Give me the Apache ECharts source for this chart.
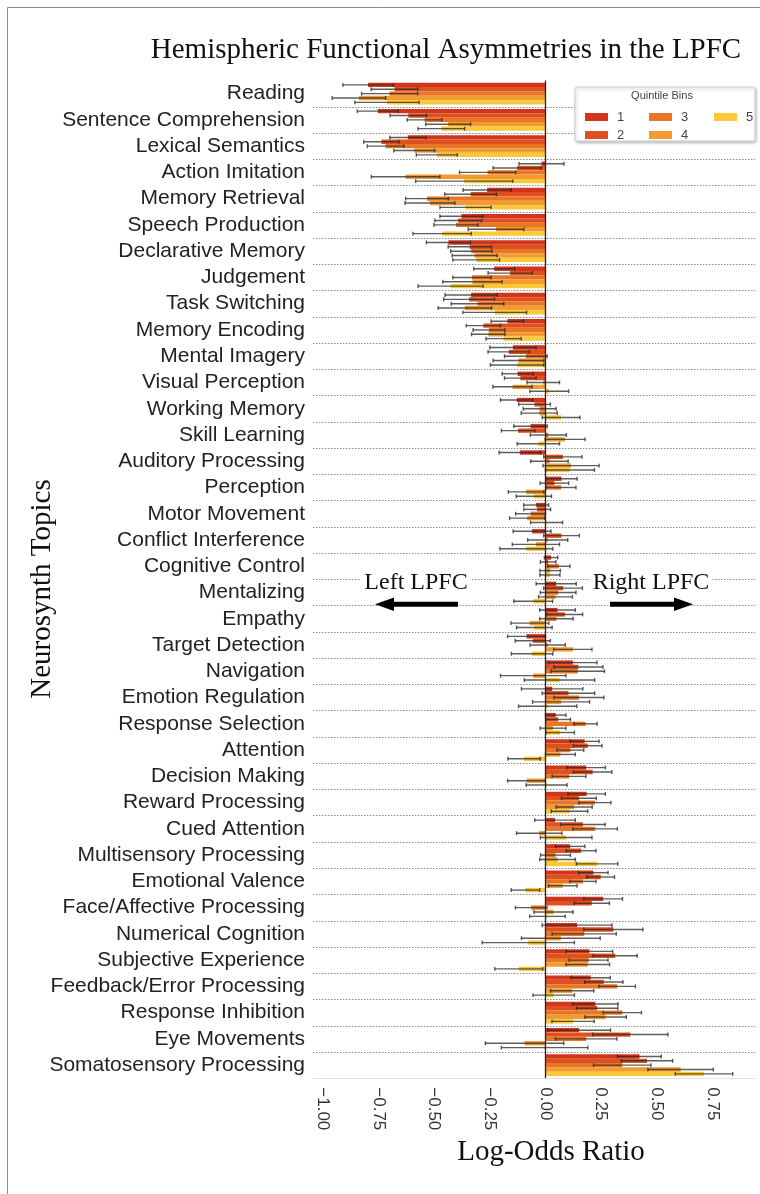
<!DOCTYPE html>
<html><head><meta charset="utf-8">
<script src="https://cdn.jsdelivr.net/npm/echarts@6/dist/echarts.min.js"></script>
<style>html,body{margin:0;padding:0;background:#fff}#c{width:760px;height:1194px}</style>
</head><body><div id="c"></div>
<script>
const categories = ['Reading','Sentence Comprehension','Lexical Semantics','Action Imitation','Memory Retrieval','Speech Production','Declarative Memory','Judgement','Task Switching','Memory Encoding','Mental Imagery','Visual Perception','Working Memory','Skill Learning','Auditory Processing','Perception','Motor Movement','Conflict Interference','Cognitive Control','Mentalizing','Empathy','Target Detection','Navigation','Emotion Regulation','Response Selection','Attention','Decision Making','Reward Processing','Cued Attention','Multisensory Processing','Emotional Valence','Face/Affective Processing','Numerical Cognition','Subjective Experience','Feedback/Error Processing','Response Inhibition','Eye Movements','Somatosensory Processing'];
const xTicks = [-1, -0.75, -0.5, -0.25, 0, 0.25, 0.5, 0.75];
const binNames = ['1','2','3','4','5'];
const bin1 = [-0.797,-0.753,-0.618,-0.018,-0.262,-0.377,-0.436,-0.230,-0.334,-0.171,-0.146,-0.125,-0.129,-0.067,-0.115,0.072,-0.042,-0.060,0.025,0.048,0.054,-0.085,0.123,0.030,0.046,0.176,0.183,0.185,0.043,0.111,0.215,0.259,0.142,0.197,0.203,0.224,0.151,0.422];
const bin2 = [-0.678,-0.616,-0.737,-0.127,-0.336,-0.392,-0.340,-0.159,-0.343,-0.279,-0.165,-0.113,-0.049,-0.123,0.078,0.040,-0.037,0.072,0.012,0.079,0.087,-0.057,0.148,0.103,0.057,0.190,0.212,0.150,0.168,0.160,0.248,0.208,0.305,0.313,0.262,0.232,0.381,0.456];
const bin3 = [-0.700,-0.543,-0.718,-0.260,-0.532,-0.402,-0.333,-0.330,-0.305,-0.254,-0.088,-0.010,-0.026,0.013,0.018,0.070,-0.067,0.010,0.060,0.057,0.049,0.010,0.145,0.150,0.180,0.112,0.106,0.222,0.223,0.045,0.168,-0.064,0.174,0.194,0.322,0.345,0.183,0.345];
const bin4 = [-0.838,-0.437,-0.589,-0.628,-0.519,-0.222,-0.318,-0.328,-0.362,-0.257,-0.121,-0.148,-0.028,0.088,0.115,-0.087,-0.082,-0.043,0.021,0.045,-0.070,0.123,-0.055,0.070,0.034,0.067,-0.085,0.129,-0.028,0.054,0.078,0.036,0.069,0.190,0.120,0.270,-0.094,0.607];
const bin5 = [-0.712,-0.468,-0.488,-0.365,-0.359,-0.464,-0.311,-0.426,-0.228,-0.188,-0.127,0.017,0.070,-0.032,0.110,-0.052,0.005,-0.086,0.020,-0.055,-0.050,-0.060,0.063,0.010,0.066,-0.096,0.005,0.108,0.093,0.232,-0.090,0.009,-0.077,-0.120,0.037,0.124,-0.004,0.712];
const err1 = [0.113,0.092,0.081,0.101,0.108,0.097,0.099,0.092,0.117,0.073,0.104,0.070,0.073,0.075,0.093,0.070,0.056,0.085,0.030,0.090,0.080,0.085,0.108,0.138,0.046,0.065,0.086,0.084,0.091,0.066,0.066,0.087,0.157,0.105,0.088,0.102,0.141,0.098];
const err2 = [0.105,0.082,0.079,0.108,0.116,0.105,0.097,0.099,0.114,0.077,0.093,0.071,0.071,0.075,0.086,0.064,0.060,0.080,0.035,0.087,0.080,0.079,0.110,0.118,0.055,0.064,0.086,0.078,0.100,0.067,0.062,0.079,0.133,0.099,0.086,0.093,0.169,0.115];
const err3 = [0.126,0.078,0.082,0.126,0.096,0.099,0.093,0.086,0.118,0.071,0.096,0.073,0.074,0.081,0.084,0.067,0.067,0.090,0.050,0.080,0.075,0.079,0.120,0.112,0.052,0.060,0.076,0.072,0.100,0.067,0.059,0.071,0.144,0.087,0.082,0.086,0.138,0.129];
const err4 = [0.120,0.101,0.092,0.154,0.112,0.125,0.101,0.133,0.120,0.075,0.114,0.088,0.081,0.090,0.126,0.080,0.079,0.106,0.046,0.076,0.085,0.086,0.147,0.128,0.058,0.067,0.085,0.081,0.102,0.080,0.064,0.088,0.177,0.098,0.097,0.093,0.176,0.147];
const err5 = [0.144,0.105,0.092,0.218,0.115,0.131,0.105,0.146,0.143,0.079,0.120,0.087,0.085,0.095,0.110,0.079,0.072,0.119,0.045,0.087,0.080,0.093,0.158,0.131,0.064,0.073,0.092,0.082,0.116,0.093,0.064,0.080,0.207,0.108,0.093,0.095,0.194,0.129];

const values = [bin1, bin2, bin3, bin4, bin5];
const errors = [err1, err2, err3, err4, err5];
const colors = ['#d2341c', '#df501f', '#e97526', '#f29b2f', '#fbc83a'];
const CAT_GAP = 0.17;
const SANS = '"Liberation Sans", Arial, sans-serif';
const SERIF = '"Liberation Serif", "Times New Roman", serif';

function fmt(v) {
  return (v < 0 ? '\u2212' : '') + Math.abs(v).toFixed(2);
}

function errRender(k) {
  return function (params, api) {
    const cat = api.value(0), v = api.value(1), e = api.value(2);
    const band = api.size([0, 1])[1];
    const group = band * (1 - CAT_GAP);
    const bw = group / binNames.length;
    const yc = api.coord([0, cat])[1] - group / 2 + bw * (k + 0.5);
    const x0 = api.coord([v - e, cat])[0];
    const x1 = api.coord([v + e, cat])[0];
    const cap = bw * 0.45;
    const st = { stroke: 'rgba(40,40,40,0.75)', lineWidth: 1.4, fill: null };
    return {
      type: 'group',
      children: [
        { type: 'line', shape: { x1: x0, y1: yc, x2: x1, y2: yc }, style: st },
        { type: 'line', shape: { x1: x0, y1: yc - cap, x2: x0, y2: yc + cap }, style: st },
        { type: 'line', shape: { x1: x1, y1: yc - cap, x2: x1, y2: yc + cap }, style: st }
      ]
    };
  };
}

const series = [];
binNames.forEach((name, k) => {
  const s = {
    name: name,
    type: 'bar',
    data: values[k],
    barGap: '0%',
    barCategoryGap: (CAT_GAP * 100) + '%',
    itemStyle: { color: colors[k] },
    emphasis: { disabled: true },
    z: 2
  };
  if (k === binNames.length - 1) {
    s.markLine = {
      silent: true, symbol: 'none', label: { show: false },
      lineStyle: { color: '#222', width: 1.3, type: 'solid' },
      data: [{ xAxis: 0 }]
    };
  }
  series.push(s);
});
binNames.forEach((name, k) => {
  series.push({
    name: 'err' + name,
    type: 'custom',
    renderItem: errRender(k),
    encode: { x: 1, y: 0 },
    data: categories.map((c, i) => [i, values[k][i], errors[k][i]]),
    z: 4,
    silent: true
  });
});

const legendCommon = {
  orient: 'vertical', top: 105, icon: 'rect', itemWidth: 23, itemHeight: 8, itemGap: 4,
  selectedMode: false, z: 20,
  textStyle: { fontFamily: SANS, fontSize: 13, color: '#444', lineHeight: 14, padding: [0, 0, 0, 4] }
};

const chart = echarts.init(document.getElementById('c'), null, { renderer: 'canvas' });
chart.setOption({
  animation: false,
  backgroundColor: '#fff',
  color: colors,
  grid: { left: 313, right: 5, top: 80.5, bottom: 115.7, outerBoundsMode: 'none', containLabel: false },
  xAxis: {
    type: 'value',
    min: -1.044, max: 0.941,
    axisLine: { show: true, onZero: false, lineStyle: { color: '#e3e3e3', width: 1 } },
    axisTick: { show: false },
    splitLine: { show: false },
    axisLabel: {
      customValues: xTicks,
      rotate: -90, margin: 9,
      fontFamily: SANS, fontSize: 17, color: '#333',
      formatter: fmt
    }
  },
  yAxis: {
    type: 'category',
    data: categories,
    inverse: true,
    axisLine: { show: false, onZero: false },
    axisTick: { show: false, interval: 0 },
    axisLabel: { interval: 0, hideOverlap: false, margin: 8, fontFamily: SANS, fontSize: 21, color: '#222' },
    splitLine: {
      show: true, interval: 0, showMinLine: false, showMaxLine: false,
      lineStyle: { color: '#8a8a8a', width: 1, type: [1.5, 1.5] }
    }
  },
  legend: [
    Object.assign({ data: ['1', '2'], left: 580 }, legendCommon),
    Object.assign({ data: ['3', '4'], left: 644 }, legendCommon),
    Object.assign({ data: ['5'], left: 709 }, legendCommon)
  ],
  graphic: [
    { type: 'line', z: 30, shape: { x1: 7.5, y1: 7.5, x2: 760, y2: 7.5 }, style: { stroke: '#8c8c8c', lineWidth: 1 } },
    { type: 'line', z: 30, shape: { x1: 7.5, y1: 7.5, x2: 7.5, y2: 1194 }, style: { stroke: '#8c8c8c', lineWidth: 1 } },
    { type: 'text', z: 30, x: 446, y: 50, style: { text: 'Hemispheric Functional Asymmetries in the LPFC', font: '29px ' + SERIF, fill: '#111', align: 'center', verticalAlign: 'middle' } },
    { type: 'text', z: 30, x: 42, y: 589, rotation: Math.PI / 2, style: { text: 'Neurosynth Topics', font: '29px ' + SERIF, fill: '#111', align: 'center', verticalAlign: 'middle' } },
    { type: 'text', z: 30, x: 551, y: 1152, style: { text: 'Log-Odds Ratio', font: '29px ' + SERIF, fill: '#111', align: 'center', verticalAlign: 'middle' } },
    { type: 'rect', z: 10, shape: { x: 575, y: 87, width: 180, height: 54, r: 2 }, style: { fill: '#fff', stroke: '#d0d0d0', lineWidth: 1, shadowBlur: 3, shadowOffsetX: 1, shadowOffsetY: 1.5, shadowColor: 'rgba(0,0,0,0.25)' } },
    { type: 'text', z: 11, x: 662, y: 96, style: { text: 'Quintile Bins', font: '11px ' + SANS, fill: '#444', align: 'center', verticalAlign: 'middle' } },
    { type: 'text', z: 30, x: 416, y: 583, style: { text: 'Left LPFC', font: '24px ' + SERIF, fill: '#111', align: 'center', verticalAlign: 'middle', backgroundColor: '#fff', padding: [1, 3] } },
    { type: 'text', z: 30, x: 651, y: 583, style: { text: 'Right LPFC', font: '24px ' + SERIF, fill: '#111', align: 'center', verticalAlign: 'middle', backgroundColor: '#fff', padding: [1, 3] } },
    { type: 'polygon', z: 30, shape: { points: [[375, 604.3], [394, 597.5], [394, 601.8], [458, 601.8], [458, 606.8], [394, 606.8], [394, 611.1]] }, style: { fill: '#000' } },
    { type: 'polygon', z: 30, shape: { points: [[693, 604.3], [674, 597.5], [674, 601.8], [610, 601.8], [610, 606.8], [674, 606.8], [674, 611.1]] }, style: { fill: '#000' } }
  ],
  series: series
});
</script>
</body></html>
